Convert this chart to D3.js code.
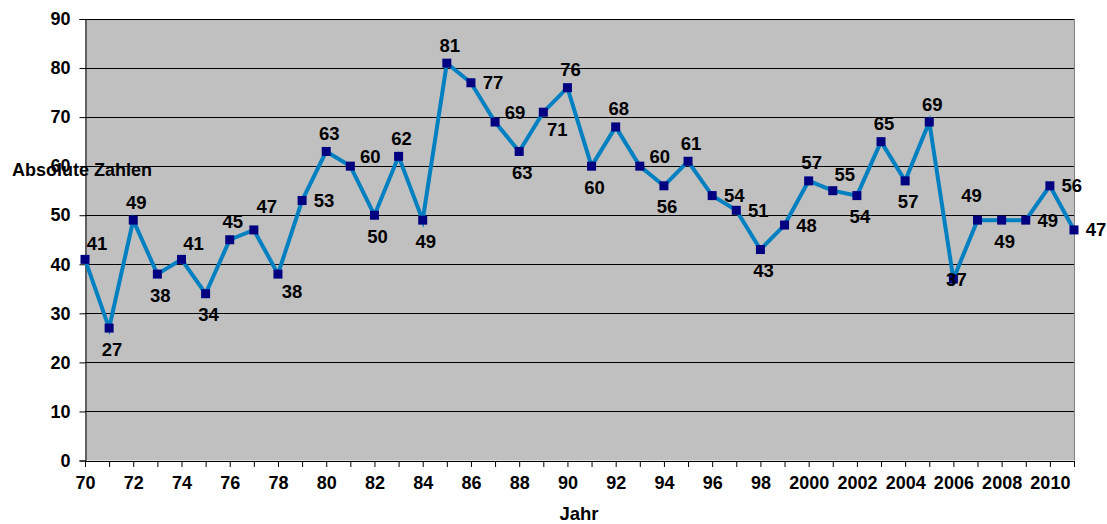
<!DOCTYPE html>
<html><head><meta charset="utf-8">
<script src="https://cdn.jsdelivr.net/npm/d3@7"></script>
<style>
body{margin:0;background:#fff;}
text{font-family:"Liberation Sans",Arial,sans-serif;font-weight:bold;fill:#000;}
</style></head><body>
<svg id="c" width="1107" height="524"></svg>
<script>
const years = d3.range(1970, 2012);
const values = [41,27,49,38,41,34,45,47,38,53,63,60,50,62,49,81,77,69,63,71,76,60,68,60,56,61,54,51,43,48,57,55,54,65,57,69,37,49,49,49,56,47];
const labelPos = ["ar","b","a","b","ar","b","a","aR","br","r","a","ru","b","a","b","a","r","ru","b","br","a","b","a","ru","b","a","r","r","b","r","a","ar","b","a","b","a","c","al","b","r","r","r"];
const yTicks = [0,10,20,30,40,50,60,70,80,90];
const xTickLabel = y => y < 2000 ? String(y - 1900) : String(y);

const svg = d3.select("#c");
const L = 85, R = 1074, T = 19, B = 460.5;
const x = d3.scaleLinear().domain([1970, 2011]).range([L, R]);
const y = d3.scaleLinear().domain([0, 90]).range([B, T]);

svg.append("rect").attr("x", L).attr("y", T).attr("width", R - L).attr("height", B - T).attr("fill", "#C0C0C0");

svg.append("g").selectAll("line").data(yTicks.filter(d => d > 0)).join("line")
  .attr("x1", L).attr("x2", R).attr("y1", d => Math.round(y(d)) + 0.5).attr("y2", d => Math.round(y(d)) + 0.5)
  .attr("stroke", "#000").attr("stroke-width", 1);
svg.append("line").attr("x1", R + 0.5).attr("x2", R + 0.5).attr("y1", T).attr("y2", B).attr("stroke", "#808080").attr("stroke-width", 1);

const yAxis = d3.axisLeft(y).tickValues(yTicks).tickSize(6).tickPadding(9);
const gy = svg.append("g").attr("transform", `translate(${L + 0.5},0)`).call(yAxis);
gy.select(".domain").attr("stroke", "#000");
gy.selectAll(".tick line").attr("stroke", "#000");
gy.selectAll("text").style("font-size", "18px").attr("fill", "#000");

const xAxis = d3.axisBottom(x).tickValues(years).tickSize(6).tickPadding(9)
  .tickFormat(d => (d % 2 === 0 ? xTickLabel(d) : ""));
const gx = svg.append("g").attr("transform", `translate(0,${B + 0.5})`).call(xAxis);
gx.select(".domain").attr("stroke", "#000");
gx.selectAll(".tick line").attr("stroke", "#000");
gx.selectAll("text").style("font-size", "18px").attr("fill", "#000");

const pts = years.map((yr, i) => ({yr, v: values[i], p: labelPos[i]}));
svg.append("path").datum(pts)
  .attr("d", d3.line().x(d => x(d.yr)).y(d => y(d.v)))
  .attr("fill", "none").attr("stroke", "#0080C0").attr("stroke-width", 4).attr("stroke-linejoin", "miter");

svg.append("g").selectAll("rect").data(pts).join("rect")
  .attr("x", d => x(d.yr) - 4.5).attr("y", d => y(d.v) - 4.5).attr("width", 9).attr("height", 9)
  .attr("fill", "#000080");

const off = {a:[3,-18], b:[3,21], r:[22,0], ru:[20,-10], ar:[12,-16], aR:[13,-23], br:[14,17], al:[-6,-25], c:[3,1]};
svg.append("g").selectAll("text").data(pts).join("text")
  .attr("x", d => x(d.yr) + off[d.p][0]).attr("y", d => y(d.v) + off[d.p][1])
  .attr("text-anchor", "middle").attr("dominant-baseline", "central")
  .style("font-size", "18.5px").text(d => d.v);

svg.append("text").attr("x", 12).attr("y", 176).style("font-size", "18px").text("Absolute Zahlen");
svg.append("text").attr("x", 579).attr("y", 520).attr("text-anchor", "middle").style("font-size", "18.5px").text("Jahr");
</script></body></html>
